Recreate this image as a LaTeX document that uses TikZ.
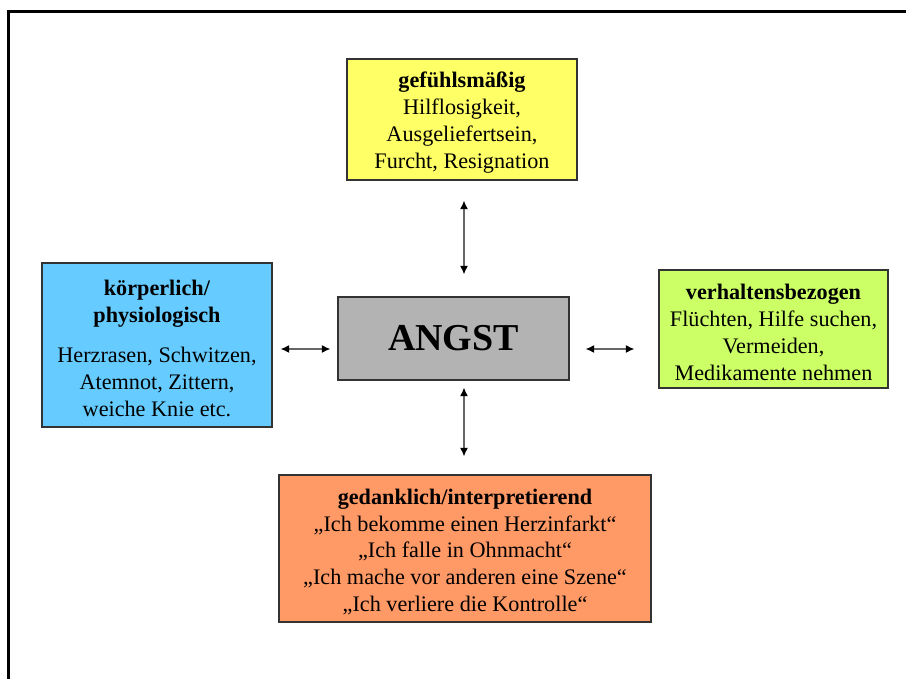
\documentclass[tikz,border=0pt]{standalone}
\usepackage{fontspec}
\setmainfont{Liberation Serif}
\usetikzlibrary{arrows.meta}
\definecolor{cyellow}{HTML}{FFFF66}
\definecolor{cblue}{HTML}{66CCFF}
\definecolor{cgreen}{HTML}{CCFF66}
\definecolor{corange}{HTML}{FF9966}
\definecolor{cgray}{HTML}{B3B3B3}
\definecolor{cborder}{HTML}{333333}
\tikzset{
  box/.style={draw=cborder, line width=1.3pt, rectangle, inner sep=0pt},
  boxtext/.style={align=center, inner sep=0pt, yshift=-3.5pt,
    font=\fontsize{22.2}{27}\selectfont},
  biarrow/.style={draw=black!60, line width=1.2pt,
    {Latex[length=8.5pt,width=8pt,black]}-{Latex[length=8.5pt,width=8pt,black]}},
}
\begin{document}
\begin{tikzpicture}[x=1pt,y=-1pt]
\useasboundingbox (0,0) rectangle (906,679);
\draw[line width=3pt] (906,12) -- (8,12) -- (8,679);

\node[box, fill=cyellow, minimum width=230pt, minimum height=121pt] (feel) at (462,119.5) {};
\node[boxtext] (feeltext) at (feel.center)
  {\textbf{gefühlsmäßig}\\Hilflosigkeit,\\Ausgeliefertsein,\\Furcht, Resignation};

\node[box, fill=cblue, minimum width=230pt, minimum height=164pt] (body) at (157,345) {};
\node[boxtext] (bodytext) at (body.center)
  {\textbf{körperlich/}\\\textbf{physiologisch}\\[13pt]Herzrasen, Schwitzen,\\Atemnot, Zittern,\\weiche Knie etc.};

\node[box, fill=cgreen, minimum width=229pt, minimum height=118pt] (behav) at (773.5,329) {};
\node[boxtext] (behavtext) at (behav.center)
  {\textbf{verhaltensbezogen}\\Flüchten, Hilfe suchen,\\Vermeiden,\\Medikamente nehmen};

\node[box, fill=corange, minimum width=372pt, minimum height=147pt] (think) at (465,548.5) {};
\node[boxtext, font=\fontsize{22.2}{26.7}\selectfont] (thinktext) at (think.center)
  {\textbf{gedanklich/interpretierend}\\„Ich bekomme einen Herzinfarkt“\\„Ich falle in Ohnmacht“\\„Ich mache vor anderen eine Szene“\\„Ich verliere die Kontrolle“};

\node[box, fill=cgray, minimum width=231pt, minimum height=83pt, font=\fontsize{38}{40}\selectfont\bfseries] (angst) at (453.5,338.5) {ANGST};

\coordinate (vx) at (464,0);
\coordinate (hy) at (0,349);
\draw[biarrow, shorten <=20pt, shorten >=22pt] (feel.south -| vx) -- (angst.north -| vx);
\draw[biarrow, shorten <=7pt, shorten >=18pt] (angst.south -| vx) -- (think.north -| vx);
\draw[biarrow, shorten <=8pt, shorten >=7pt] (body.east |- hy) -- (angst.west |- hy);
\draw[biarrow, shorten <=16pt, shorten >=24pt] (angst.east |- hy) -- (behav.west |- hy);
\end{tikzpicture}
\end{document}
